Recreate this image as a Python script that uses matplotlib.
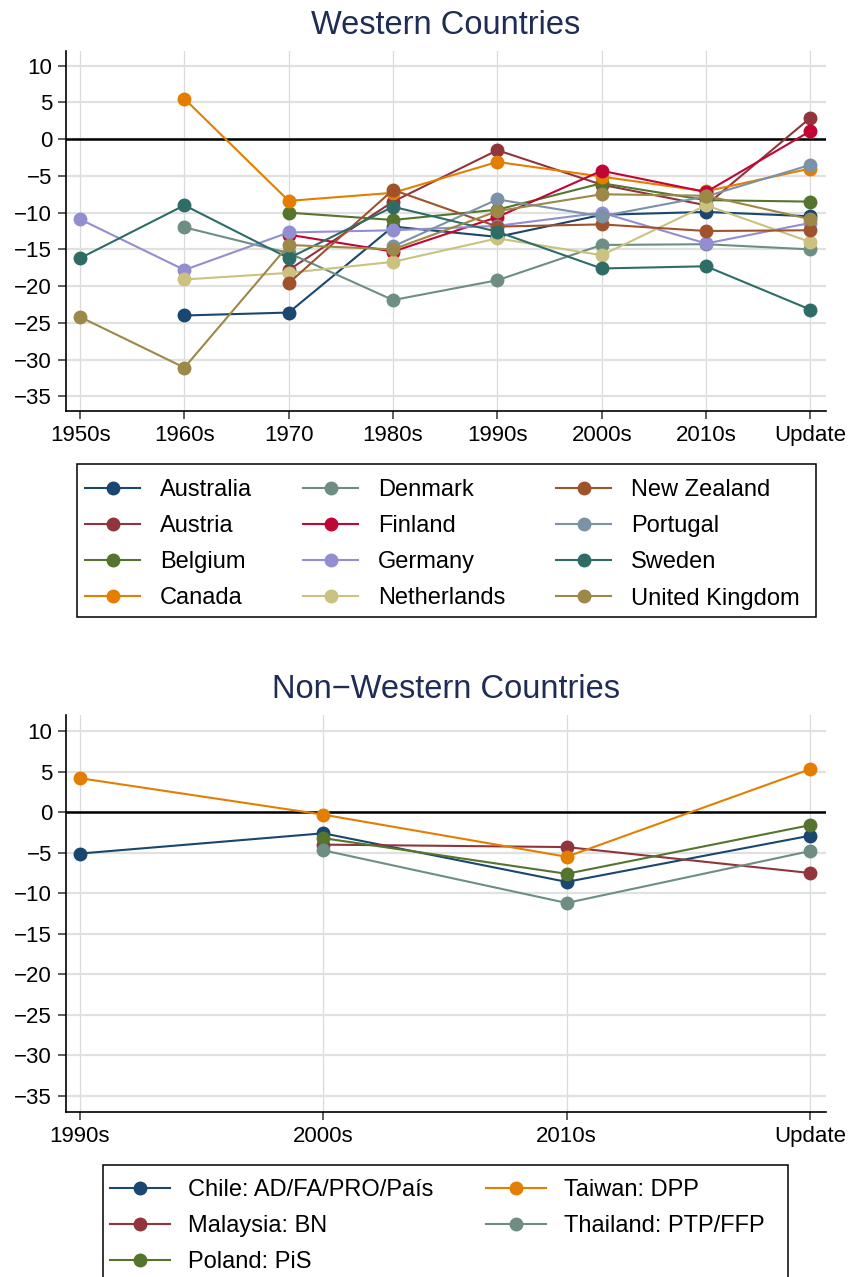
import matplotlib
matplotlib.use("Agg")
import matplotlib.pyplot as plt
from matplotlib.patches import Rectangle
import numpy as np

plt.rcParams['font.family'] = ['Liberation Sans', 'DejaVu Sans']

nan = np.nan

# --- Western countries ---
west_periods = ['1950s', '1960s', '1970', '1980s', '1990s', '2000s', '2010s', 'Update']
west_names = ['Australia', 'Austria', 'Belgium', 'Canada', 'Denmark', 'Finland',
              'Germany', 'Netherlands', 'New Zealand', 'Portugal', 'Sweden', 'United Kingdom']
australia = [nan, -24.0, -23.6, -11.9, -13.3, -10.3, -9.9, -10.5]
austria = [nan, nan, -17.8, -8.5, -1.5, -6.2, -9.0, 2.9]
belgium = [nan, nan, -10.0, -11.0, -9.6, -6.0, -8.3, -8.5]
canada = [nan, 5.5, -8.4, -7.3, -3.1, -5.1, -7.1, -4.0]
denmark = [nan, -12.0, -15.5, -21.9, -19.2, -14.4, -14.3, -15.0]
finland = [nan, nan, -13.0, -15.3, -10.6, -4.3, -7.2, 1.1]
germany = [-10.9, -17.8, -12.7, -12.4, -11.8, -10.0, -14.2, -11.4]
netherlands = [nan, -19.1, -18.2, -16.7, -13.5, -15.8, -9.0, -14.0]
new_zealand = [nan, nan, -19.6, -6.9, -11.9, -11.6, -12.5, -12.4]
portugal = [nan, nan, nan, -14.6, -8.2, -10.5, -7.8, -3.5]
sweden = [-16.2, -9.0, -16.2, -9.2, -12.6, -17.6, -17.3, -23.2]
united_kingdom = [-24.2, -31.1, -14.4, -15.0, -9.8, -7.5, -7.7, -10.9]
west_values = [australia, austria, belgium, canada, denmark, finland,
               germany, netherlands, new_zealand, portugal, sweden, united_kingdom]

# --- Non-western countries ---
nonwest_periods = ['1990s', '2000s', '2010s', 'Update']
nonwest_names = ['Chile: AD/FA/PRO/País', 'Malaysia: BN', 'Poland: PiS',
                 'Taiwan: DPP', 'Thailand: PTP/FFP']
chile = [-5.1, -2.6, -8.6, -2.9]
malaysia = [nan, -4.0, -4.3, -7.5]
poland = [nan, -3.2, -7.6, -1.6]
taiwan = [4.2, -0.3, -5.5, 5.3]
thailand = [nan, -4.7, -11.2, -4.8]
nonwest_values = [chile, malaysia, poland, taiwan, thailand]

# Stata s2color palette
s2color = ['#1a476f', '#90353b', '#55752f', '#e37e00', '#6e8e84', '#c10534',
           '#938dd2', '#cac27e', '#a0522d', '#7b92a8', '#2d6d66', '#9c8847']
nonwest_colors = s2color[:5]

title_color = '#1f2d55'
W, H = 852, 1277

fig = plt.figure(figsize=(W / 100, H / 100), dpi=100)


def px_axes(left, top, right, bottom):
    return fig.add_axes([left / W, 1 - bottom / H, (right - left) / W, (bottom - top) / H])


def style_axes(ax, labels, xlim):
    ax.set_xlim(*xlim)
    ax.set_ylim(-37, 12)
    ax.set_xticks(range(len(labels)))
    ax.set_xticklabels(labels)
    ax.set_yticks(np.arange(-35, 11, 5))
    ax.tick_params(axis='both', labelsize=16, length=6, width=1.1, color='#333333', pad=4)
    ax.grid(axis='y', color='#e1e1e1', linewidth=1.6)
    ax.grid(axis='x', color='#dadada', linewidth=0.9)
    ax.set_axisbelow(True)
    ax.axhline(0, color='black', linewidth=1.8, zorder=1.5)
    for side in ['top', 'right']:
        ax.spines[side].set_visible(False)
    for side in ['left', 'bottom']:
        ax.spines[side].set_linewidth(1.2)


def px_legend(ax, ncol, x0, x1, top, handlelength, handletextpad):
    # legend entries laid out between x0 and x1 (pixels), first row text top at `top`
    handles, labels = ax.get_legend_handles_labels()
    return fig.legend(handles, labels, loc='upper left', ncol=ncol, mode='expand',
                      bbox_to_anchor=(x0 / W, 1 - top / H, (x1 - x0) / W, 0),
                      fontsize=17, frameon=False, borderpad=0, borderaxespad=0,
                      handlelength=handlelength, handletextpad=handletextpad,
                      labelspacing=0.6)


def px_box(left, top, right, bottom):
    fig.patches.append(Rectangle((left / W, 1 - bottom / H), (right - left) / W,
                                 (bottom - top) / H, transform=fig.transFigure,
                                 facecolor='none', edgecolor='black', linewidth=1.1))


# Top panel
ax1 = px_axes(66, 51, 826, 411)
x1 = np.arange(len(west_periods))
for name, vals, col in zip(west_names, west_values, s2color):
    ax1.plot(x1, vals, color=col, linewidth=1.5, marker='o', markersize=9, label=name)
style_axes(ax1, west_periods, (-0.135, 7.15))
fig.text(446 / W, 1 - 25 / H, 'Western Countries', ha='center', va='center',
         fontsize=23.5, color=title_color)
px_box(77, 464, 816, 617)
px_legend(ax1, 3, 85, 800, 479, 2.33, 0.85)

# Bottom panel
ax2 = px_axes(66, 715, 826, 1112)
x2 = np.arange(len(nonwest_periods))
for name, vals, col in zip(nonwest_names, nonwest_values, nonwest_colors):
    ax2.plot(x2, vals, color=col, linewidth=1.5, marker='o', markersize=9, label=name)
style_axes(ax2, nonwest_periods, (-0.0575, 3.066))
fig.text(446 / W, 1 - 689 / H, 'Non\u2212Western Countries', ha='center', va='center',
         fontsize=23.5, color=title_color)
px_box(103, 1165, 788, 1300)
px_legend(ax2, 2, 110, 765, 1179, 2.54, 0.76)

fig.savefig('out.png', dpi=100)
